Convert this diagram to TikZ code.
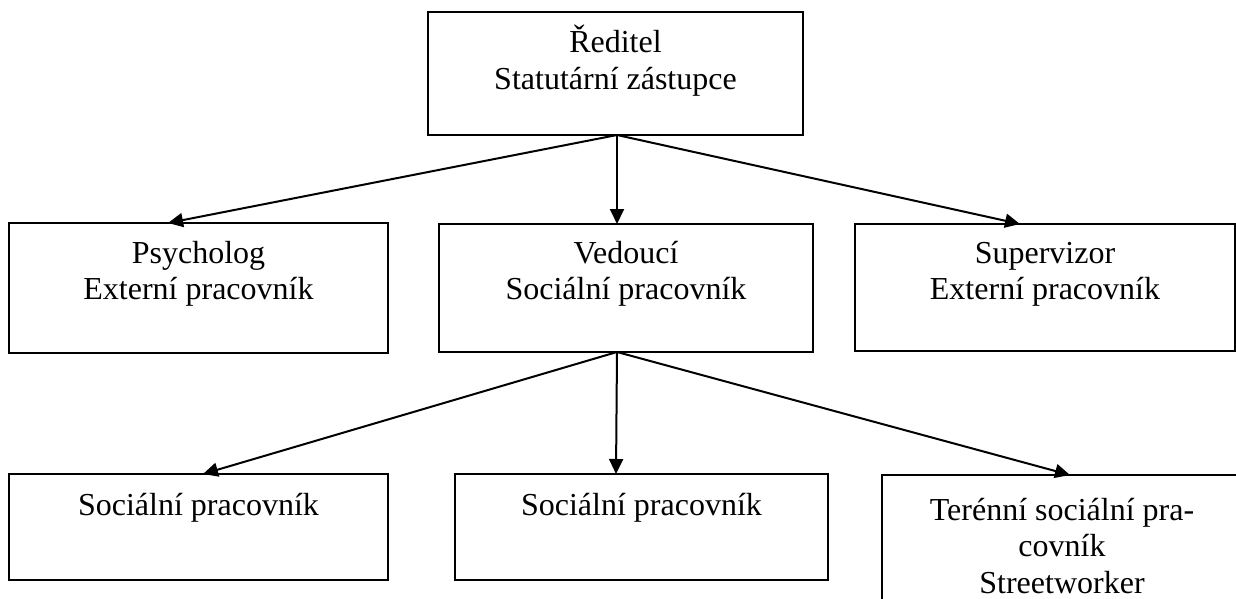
\documentclass[tikz,border=0pt]{standalone}
\usepackage{fontspec}
\setmainfont{Liberation Serif}
\usetikzlibrary{arrows.meta}
\newcommand{\boxtext}[4]{\parbox[c][#2][t]{#1}{\centering\rule{0pt}{#3}#4}}
\begin{document}
\begin{tikzpicture}[x=0.5pt,y=-0.5pt,
  orgbox/.style={draw, line width=1pt, inner sep=0pt, outer sep=0pt, anchor=north west,
    font=\fontsize{16}{18.4}\selectfont},
  arr/.style={-{Triangle[length=7.5pt,width=7pt]}, line width=1pt}]
\useasboundingbox (0,0) rectangle (1236,599);
\clip (0,0) rectangle (1236,599);
\node[orgbox] (top) at (428,12) {\boxtext{187.5pt}{61.5pt}{20.5pt}{Ředitel\\Statutární zástupce}};
\node[orgbox] (pl) at (9,223) {\boxtext{189.5pt}{65pt}{20pt}{Psycholog\\Externí pracovník}};
\node[orgbox] (pm) at (439,224) {\boxtext{187pt}{64pt}{19.5pt}{Vedoucí\\Sociální pracovník}};
\node[orgbox] (pr) at (855,224) {\boxtext{190pt}{63.5pt}{19.5pt}{Supervizor\\Externí pracovník}};
\node[orgbox] (bl) at (9,474) {\boxtext{189.5pt}{53pt}{20.5pt}{Sociální pracovník}};
\node[orgbox] (bm) at (455,474) {\boxtext{186.5pt}{53pt}{20.5pt}{Sociální pracovník}};
\node[orgbox] (br) at (882,475) {\boxtext{180pt}{100pt}{22.5pt}{Terénní sociální pra-\\covník\\Streetworker}};
\draw[arr] ([xshift=0.75pt]top.south) -- ([xshift=-15.25pt]pl.north);
\draw[arr] ([xshift=0.75pt]top.south) -- ([xshift=-4.5pt]pm.north);
\draw[arr] ([xshift=0.75pt]top.south) -- ([xshift=-12.5pt]pr.north);
\draw[arr] ([xshift=-4.5pt]pm.south) -- ([xshift=2.25pt]bl.north);
\draw[arr] ([xshift=-4.5pt]pm.south) -- ([xshift=-12.75pt]bm.north);
\draw[arr] ([xshift=-4.5pt]pm.south) -- ([xshift=4pt]br.north);
\end{tikzpicture}
\end{document}
